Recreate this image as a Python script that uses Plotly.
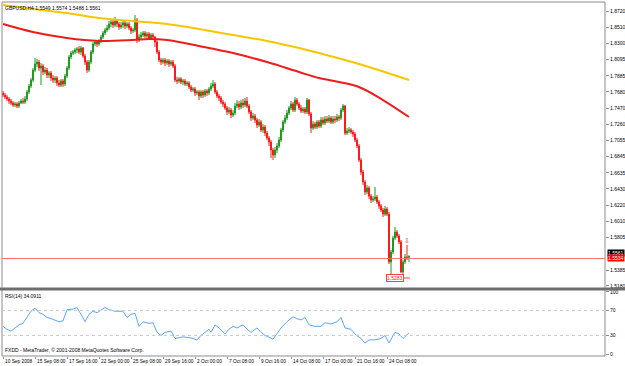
import plotly.graph_objects as go

# ---------------- data ----------------
bars = list(range(204))

close = [1.7639,1.7613,1.7587,1.7561,1.7536,1.7510,1.7523,1.7497,1.7536,1.7561,
1.7548,1.7587,1.7677,1.7754,1.7832,1.7960,1.8038,1.8063,1.7986,1.8012,
1.7935,1.7960,1.7896,1.7922,1.7857,1.7832,1.7857,1.7793,1.7767,1.7819,
1.7780,1.7883,1.7986,1.8128,1.8179,1.8192,1.8218,1.8231,1.8192,1.8244,
1.8141,1.8063,1.7960,1.8063,1.8192,1.8295,1.8321,1.8295,1.8334,1.8385,
1.8437,1.8475,1.8501,1.8553,1.8578,1.8540,1.8591,1.8553,1.8514,1.8540,
1.8566,1.8527,1.8553,1.8501,1.8463,1.8475,1.8604,1.8347,1.8385,1.8411,
1.8437,1.8398,1.8424,1.8372,1.8411,1.8385,1.8321,1.8192,1.8089,1.8063,
1.8089,1.8051,1.8076,1.8038,1.8063,1.8012,1.7832,1.7819,1.7845,1.7806,
1.7819,1.7780,1.7793,1.7742,1.7703,1.7716,1.7664,1.7677,1.7626,1.7677,
1.7639,1.7690,1.7664,1.7716,1.7754,1.7780,1.7677,1.7626,1.7600,1.7548,
1.7523,1.7471,1.7420,1.7445,1.7381,1.7407,1.7497,1.7523,1.7484,1.7536,
1.7510,1.7561,1.7497,1.7420,1.7342,1.7368,1.7317,1.7252,1.7291,1.7188,
1.7227,1.7149,1.7085,1.7033,1.6931,1.6866,1.6931,1.6982,1.7059,1.7188,
1.7291,1.7342,1.7407,1.7471,1.7523,1.7445,1.7574,1.7523,1.7471,1.7433,
1.7458,1.7420,1.7574,1.7394,1.7214,1.7265,1.7227,1.7291,1.7239,1.7317,
1.7278,1.7330,1.7304,1.7342,1.7291,1.7330,1.7317,1.7355,1.7342,1.7445,
1.7497,1.7149,1.7175,1.7188,1.7162,1.7136,1.7059,1.6982,1.6802,1.6647,
1.6519,1.6390,1.6442,1.6338,1.6287,1.6300,1.6325,1.6261,1.6210,1.6158,
1.6106,1.6171,1.6106,1.5489,1.5617,1.5798,1.5875,1.5824,1.5746,1.5360,
1.5489,1.5553,1.5549,1.5561]

open_ = [1.7664,1.7639,1.7613,1.7587,1.7561,1.7536,1.7510,1.7523,1.7497,1.7536,
1.7561,1.7548,1.7587,1.7677,1.7754,1.7832,1.7960,1.8038,1.8063,1.7986,
1.8012,1.7935,1.7960,1.7896,1.7922,1.7857,1.7832,1.7857,1.7793,1.7767,
1.7819,1.7780,1.7883,1.7986,1.8128,1.8179,1.8192,1.8218,1.8231,1.8192,
1.8244,1.8141,1.8063,1.7960,1.8063,1.8192,1.8295,1.8321,1.8295,1.8334,
1.8385,1.8437,1.8475,1.8501,1.8553,1.8578,1.8540,1.8591,1.8553,1.8514,
1.8540,1.8566,1.8527,1.8553,1.8501,1.8463,1.8475,1.8604,1.8347,1.8385,
1.8411,1.8437,1.8398,1.8424,1.8372,1.8411,1.8385,1.8321,1.8192,1.8089,
1.8063,1.8089,1.8051,1.8076,1.8038,1.8063,1.8012,1.7832,1.7819,1.7845,
1.7806,1.7819,1.7780,1.7793,1.7742,1.7703,1.7716,1.7664,1.7677,1.7626,
1.7677,1.7639,1.7690,1.7664,1.7716,1.7754,1.7780,1.7677,1.7626,1.7600,
1.7548,1.7523,1.7471,1.7420,1.7445,1.7381,1.7407,1.7497,1.7523,1.7484,
1.7536,1.7510,1.7561,1.7497,1.7420,1.7342,1.7368,1.7317,1.7252,1.7291,
1.7188,1.7227,1.7149,1.7085,1.7033,1.6931,1.6866,1.6931,1.6982,1.7059,
1.7188,1.7291,1.7342,1.7407,1.7471,1.7523,1.7445,1.7574,1.7523,1.7471,
1.7433,1.7458,1.7420,1.7574,1.7394,1.7214,1.7265,1.7227,1.7291,1.7239,
1.7317,1.7278,1.7330,1.7304,1.7342,1.7291,1.7330,1.7317,1.7355,1.7342,
1.7445,1.7497,1.7149,1.7175,1.7188,1.7162,1.7136,1.7059,1.6982,1.6802,
1.6647,1.6519,1.6390,1.6442,1.6338,1.6287,1.6300,1.6325,1.6261,1.6210,
1.6158,1.6106,1.6171,1.6106,1.5489,1.5617,1.5798,1.5875,1.5824,1.5746,
1.5360,1.5489,1.5553,1.5549]

high = [1.7690,1.7664,1.7639,1.7613,1.7587,1.7561,1.7548,1.7548,1.7561,1.7587,
1.7600,1.7626,1.7703,1.7780,1.7857,1.7986,1.8115,1.8102,1.8089,1.8051,
1.8038,1.7999,1.7986,1.7948,1.7948,1.7896,1.7883,1.7883,1.7832,1.7845,
1.7845,1.7909,1.8012,1.8154,1.8205,1.8218,1.8244,1.8257,1.8270,1.8270,
1.8257,1.8166,1.8089,1.8089,1.8218,1.8321,1.8347,1.8347,1.8360,1.8411,
1.8463,1.8501,1.8540,1.8591,1.8617,1.8604,1.8643,1.8617,1.8578,1.8578,
1.8591,1.8604,1.8578,1.8578,1.8527,1.8501,1.8669,1.8630,1.8424,1.8450,
1.8463,1.8463,1.8450,1.8450,1.8437,1.8437,1.8398,1.8347,1.8218,1.8115,
1.8115,1.8115,1.8102,1.8102,1.8089,1.8089,1.8038,1.7870,1.7870,1.7870,
1.7845,1.7845,1.7819,1.7819,1.7767,1.7742,1.7742,1.7703,1.7703,1.7703,
1.7703,1.7716,1.7716,1.7742,1.7793,1.7832,1.7806,1.7703,1.7651,1.7626,
1.7574,1.7548,1.7497,1.7484,1.7471,1.7445,1.7536,1.7574,1.7561,1.7574,
1.7587,1.7600,1.7613,1.7523,1.7445,1.7407,1.7394,1.7342,1.7330,1.7317,
1.7265,1.7252,1.7175,1.7111,1.7059,1.6956,1.6969,1.7021,1.7098,1.7214,
1.7317,1.7381,1.7445,1.7497,1.7561,1.7548,1.7613,1.7600,1.7548,1.7510,
1.7484,1.7484,1.7600,1.7587,1.7420,1.7304,1.7291,1.7317,1.7317,1.7355,
1.7355,1.7368,1.7368,1.7381,1.7368,1.7368,1.7368,1.7394,1.7381,1.7471,
1.7523,1.7510,1.7214,1.7227,1.7214,1.7188,1.7162,1.7085,1.7008,1.6828,
1.6673,1.6545,1.6480,1.6467,1.6364,1.6338,1.6455,1.6351,1.6287,1.6235,
1.6184,1.6210,1.6197,1.6132,1.5643,1.5824,1.5939,1.5901,1.5849,1.5772,
1.5515,1.5592,1.5708,1.5574]

low = [1.7613,1.7587,1.7561,1.7523,1.7510,1.7484,1.7484,1.7471,1.7471,1.7523,
1.7523,1.7523,1.7561,1.7651,1.7729,1.7806,1.7935,1.7999,1.7948,1.7767,
1.7896,1.7909,1.7857,1.7857,1.7819,1.7793,1.7793,1.7754,1.7742,1.7742,
1.7742,1.7754,1.7857,1.7960,1.8102,1.8154,1.8166,1.8179,1.8166,1.8154,
1.8115,1.8025,1.7922,1.7935,1.8038,1.8166,1.8270,1.8257,1.8270,1.8308,
1.8360,1.8411,1.8450,1.8475,1.8514,1.8501,1.8514,1.8514,1.8475,1.8488,
1.8501,1.8488,1.8501,1.8475,1.8424,1.8437,1.8450,1.8308,1.8321,1.8360,
1.8385,1.8372,1.8372,1.8347,1.8347,1.8360,1.8257,1.8166,1.8063,1.8025,
1.8038,1.8012,1.8025,1.7999,1.8012,1.7986,1.7806,1.7780,1.7793,1.7780,
1.7767,1.7754,1.7754,1.7716,1.7677,1.7677,1.7626,1.7639,1.7574,1.7600,
1.7600,1.7613,1.7626,1.7639,1.7690,1.7729,1.7651,1.7600,1.7561,1.7523,
1.7484,1.7445,1.7381,1.7394,1.7342,1.7355,1.7381,1.7471,1.7445,1.7458,
1.7471,1.7484,1.7471,1.7394,1.7304,1.7317,1.7278,1.7214,1.7227,1.7162,
1.7149,1.7111,1.7059,1.6982,1.6828,1.6802,1.6828,1.6892,1.6956,1.7033,
1.7162,1.7265,1.7317,1.7381,1.7445,1.7420,1.7420,1.7497,1.7445,1.7407,
1.7407,1.7394,1.7394,1.7368,1.7149,1.7188,1.7201,1.7201,1.7214,1.7214,
1.7252,1.7252,1.7278,1.7278,1.7265,1.7265,1.7278,1.7291,1.7304,1.7317,
1.7420,1.7124,1.7124,1.7149,1.7136,1.7098,1.7033,1.6956,1.6776,1.6609,
1.6480,1.6351,1.6364,1.6300,1.6248,1.6261,1.6274,1.6235,1.6171,1.6132,
1.6068,1.6081,1.6081,1.5463,1.5283,1.5592,1.5772,1.5798,1.5720,1.5347,
1.5334,1.5463,1.5515,1.5488]

# moving averages (yellow slow, red fast)
ma_slow_bars = [0, 15, 32, 48, 65, 82, 98, 115, 132, 148, 158, 178, 203]
ma_slow = [1.8797, 1.8746, 1.8694, 1.8630, 1.8591, 1.8553, 1.8488, 1.8411, 1.8334, 1.8244, 1.8179, 1.8038, 1.7832]
ma_fast_bars = [0, 15, 32, 48, 65, 73, 82, 98, 115, 132, 148, 158, 168, 178, 190, 203]
ma_fast = [1.8553, 1.8450, 1.8372, 1.8334, 1.8347, 1.8360, 1.8347, 1.8270, 1.8179, 1.8063, 1.7935, 1.7857, 1.7806, 1.7742, 1.7574, 1.7355]

# RSI(14)
rsi_bars = [0,2,4,6,8,10,12,14,16,18,20,22,24,26,28,30,32,35,37,39,41,43,45,47,49,51,53,56,60,62,64,66,68,70,73,75,77,79,81,84,86,90,94,97,99,101,103,104,106,108,111,113,115,117,120,122,124,127,129,131,133,135,137,139,142,145,147,149,151,153,156,159,161,164,167,169,171,174,176,179,181,183,186,189,191,193,196,198,200,203]
rsi = [44.6,39.8,37,42,47,49.5,59,69,74,66.6,64,59,57,54,52,53.4,71.5,72.4,75,64,52,64,69,66.6,71.5,75,71.5,69,69,59,64,65.6,44.6,52,49.5,50.5,35,30,35,37,25,27.6,26,22.7,30,35,40,35,47,42,32.4,40,44.6,42,47,40,35,42,35,30,27,24,33,42,52,60,57,55,59,47,44.6,44.6,50.5,48.5,52,59,42,39.8,32.4,25,17.8,22.7,22.7,25,30,17.8,35,32.4,25,34.09]

price_ticks = [1.8720, 1.8510, 1.8300, 1.8095, 1.7885, 1.7680, 1.7470, 1.7260, 1.7055,
               1.6845, 1.6635, 1.6430, 1.6220, 1.6010, 1.5805, 1.5385, 1.5180]
price_tick_text = ["1.8720", "1.8510", "1.8300", "1.8095", "1.7885", "1.7680", "1.7470", "1.7260", "1.7055",
                   "1.6845", "1.6635", "1.6430", "1.6220", "1.6010", "1.5805", "1.5385", "1.5180"]
time_tick_bars = [0, 16, 32, 48, 64, 80, 96, 112, 128, 144, 160, 176, 192]
time_tick_text = ["10 Sep 2008", "15 Sep 08:00", "17 Sep 16:00", "22 Sep 00:00", "25 Sep 08:00",
                  "29 Sep 16:00", "2 Oct 00:00", "7 Oct 08:00", "9 Oct 16:00", "14 Oct 08:00",
                  "17 Oct 00:00", "21 Oct 16:00", "24 Oct 08:00"]
rsi_ticks = [0, 30, 70, 100]

last_bid = 1.5561
ask_line = 1.5534
low_mark = 1.5283

# ---------------- figure ----------------
FONT = "Liberation Sans"
fig = go.Figure()

fig.add_trace(go.Candlestick(
    x=bars, open=open_, high=high, low=low, close=close,
    increasing=dict(line=dict(color="#1f9a1f", width=1), fillcolor="#1f9a1f"),
    decreasing=dict(line=dict(color="#ff1a1a", width=1), fillcolor="#ff1a1a"),
    whiskerwidth=0, xaxis="x", yaxis="y", showlegend=False, hoverinfo="skip"))

fig.add_trace(go.Scatter(x=ma_slow_bars, y=ma_slow, mode="lines", xaxis="x", yaxis="y",
                         line=dict(color="#f7c600", width=2, shape="spline"), showlegend=False,
                         hoverinfo="skip"))
fig.add_trace(go.Scatter(x=ma_fast_bars, y=ma_fast, mode="lines", xaxis="x", yaxis="y",
                         line=dict(color="#ee1c1c", width=2, shape="spline"), showlegend=False,
                         hoverinfo="skip"))

fig.add_trace(go.Scatter(x=rsi_bars, y=rsi, mode="lines", xaxis="x", yaxis="y2",
                         line=dict(color="#5aa6ff", width=1), showlegend=False, hoverinfo="skip"))

fig.add_trace(go.Scatter(x=[200, 203.5], y=[low_mark, low_mark], mode="lines", xaxis="x", yaxis="y",
                         line=dict(color="#ff4040", width=1), showlegend=False, hoverinfo="skip"))

shapes = []
grey = "#8c8c8c"
shapes.append(dict(type="line", xref="paper", yref="paper", x0=0, x1=0, y0=0, y1=1,
                   line=dict(color=grey, width=1)))
shapes.append(dict(type="line", xref="paper", yref="paper", x0=0, x1=1, y0=1, y1=1,
                   line=dict(color=grey, width=1)))
shapes.append(dict(type="line", xref="paper", yref="paper", x0=1, x1=1, y0=0, y1=1,
                   line=dict(color=grey, width=1)))
shapes.append(dict(type="line", xref="paper", yref="paper", x0=0, x1=1, y0=0, y1=0,
                   line=dict(color=grey, width=1)))
shapes.append(dict(type="line", xref="paper", yref="paper", x0=-0.01, x1=1.04, y0=0.1893, y1=0.1893,
                   line=dict(color="#6e6e6e", width=3)))
for lv in (30, 70):
    shapes.append(dict(type="line", xref="paper", yref="y2", x0=0, x1=1, y0=lv, y1=lv,
                       line=dict(color="#c8c8c8", width=1, dash="dot")))
shapes.append(dict(type="line", xref="paper", yref="y", x0=0, x1=1, y0=ask_line, y1=ask_line,
                   line=dict(color="#ff7070", width=1)))

ann = []
small = dict(family=FONT, size=5, color="#000000")
ann.append(dict(text="GBPUSD,H4 1.5549 1.5574 1.5488 1.5561", xref="paper", yref="paper",
                x=0.002, y=1, xanchor="left", yanchor="top", yshift=-1, showarrow=False, font=small))
ann.append(dict(text="RSI(14) 34.0911", xref="paper", yref="paper", x=0.002, y=0.1864,
                xanchor="left", yanchor="top", yshift=-1, showarrow=False, font=small))
ann.append(dict(text="FXDD - MetaTrader, © 2001-2008 MetaQuotes Software Corp.", xref="paper",
                yref="paper", x=0.002, y=0, xanchor="left", yanchor="bottom", yshift=1,
                showarrow=False, font=small))
for b, t in zip(time_tick_bars, time_tick_text):
    ann.append(dict(text=t, xref="x", yref="paper", x=b, y=0, xanchor="left", yanchor="top",
                    xshift=0, yshift=-1, showarrow=False, font=dict(family=FONT, size=4.8, color="#000")))
ann.append(dict(text="1.5561", xref="paper", yref="y", x=1.004, y=last_bid, xanchor="left",
                yanchor="middle", yshift=3, showarrow=False, bgcolor="#000000", borderpad=0,
                font=dict(family=FONT, size=5, color="#ffffff")))
ann.append(dict(text="1.5534", xref="paper", yref="y", x=1.004, y=ask_line, xanchor="left",
                yanchor="middle", showarrow=False, bgcolor="#ff0000", borderpad=0,
                font=dict(family=FONT, size=5, color="#ffffff")))
ann.append(dict(text="1.5283", xref="x", yref="y", x=196, y=1.5277, xanchor="center",
                yanchor="middle", showarrow=False, bgcolor="#ffffff", bordercolor="#ff4040",
                borderwidth=1, borderpad=0, font=dict(family=FONT, size=5, color="#ff2020")))
ann.append(dict(text="⇩", xref="x", yref="y", x=202, y=1.5759, showarrow=False,
                font=dict(family="DejaVu Sans", size=7, color="#ff2020")))

fig.update_layout(
    width=625, height=366,
    margin=dict(l=2, r=20, t=2, b=10),
    paper_bgcolor="white", plot_bgcolor="white",
    showlegend=False,
    xaxis=dict(range=[-0.5, 301], anchor="y2", showgrid=False, zeroline=False, showline=False,
               rangeslider=dict(visible=False), tickvals=time_tick_bars, showticklabels=False,
               ticks="outside", ticklen=2, tickcolor=grey, fixedrange=True),
    yaxis=dict(domain=[0.1921, 1], range=[1.5154, 1.8836], side="right", anchor="x",
               tickvals=price_ticks, ticktext=price_tick_text, ticks="outside", ticklen=3,
               tickcolor=grey, showgrid=False, zeroline=False, showline=False,
               tickfont=dict(family=FONT, size=5, color="#000"), automargin=False),
    yaxis2=dict(domain=[0, 0.1864], range=[-3.2, 103.2], side="right", anchor="x",
                tickvals=rsi_ticks, ticktext=["0", "30", "70", "100"], ticks="outside", ticklen=3,
                tickcolor=grey, showgrid=False, zeroline=False, showline=False,
                tickfont=dict(family=FONT, size=5, color="#000"), automargin=False),
    shapes=shapes, annotations=ann,
)

fig.write_html("out.html")
